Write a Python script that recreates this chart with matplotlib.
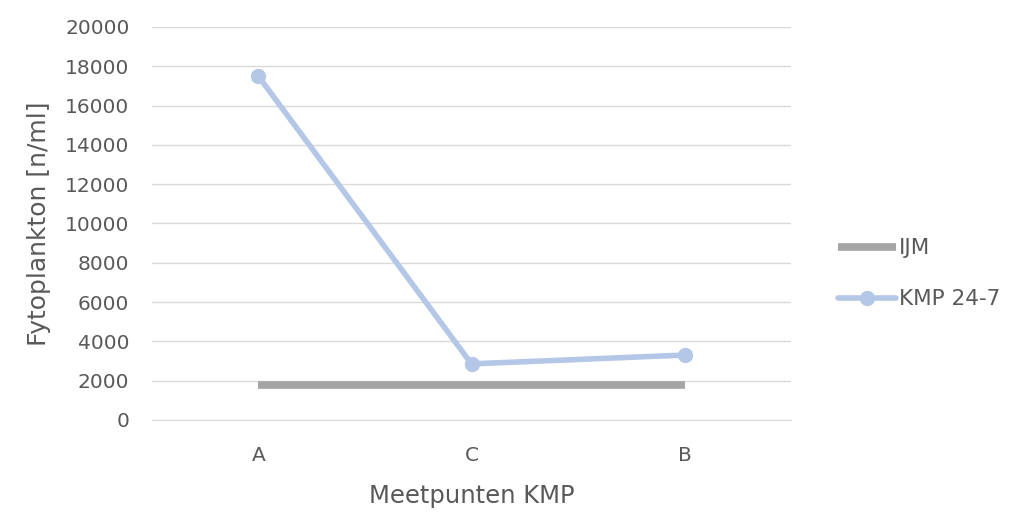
import matplotlib.pyplot as plt
import matplotlib as mpl

mpl.rcParams['font.family'] = ['DejaVu Sans']

# data
categories = ['A', 'C', 'B']
ijm = [1750, 1750, 1750]
kmp = [17500, 2850, 3300]
yticks = list(range(0, 20001, 2000))

fig = plt.figure(figsize=(10.25, 5.19), dpi=100)
ax = fig.add_axes([0.148, 0.191, 0.624, 0.757])

x = range(len(categories))
ax.plot(x, ijm, color='#a5a5a5', linewidth=5.5, solid_capstyle='butt', label='IJM')
ax.plot(x, kmp, color='#b4c7e7', linewidth=4, marker='o', markersize=10,
        solid_capstyle='round', label='KMP 24-7')

ax.set_xlim(-0.5, 2.5)
ax.set_ylim(0, 20000)
ax.set_xticks(list(x))
ax.set_xticklabels(categories)
ax.set_yticks(yticks)
ax.set_yticklabels([str(v) for v in yticks])
ax.grid(axis='y', color='#d9d9d9', linewidth=1)
ax.set_axisbelow(True)
for s in ['top', 'right', 'left']:
    ax.spines[s].set_visible(False)
ax.spines['bottom'].set_color('#d9d9d9')
ax.tick_params(length=0, labelsize=14.5, colors='#595959', pad=16)
ax.tick_params(axis='x', pad=19)

ax.set_xlabel('Meetpunten KMP', fontsize=17.5, color='#595959')
ax.set_ylabel('Fytoplankton [n/ml]', fontsize=18, color='#595959')
ax.xaxis.set_label_coords(0.5, -0.164)
ax.yaxis.set_label_coords(-0.158, 0.5)

leg = ax.legend(loc='center left', bbox_to_anchor=(1.042, 0.372), frameon=False,
                fontsize=15.5, handlelength=2.7, labelspacing=1.45, handletextpad=0.15,
                labelcolor='#595959')

plt.savefig('out.png', dpi=100)
